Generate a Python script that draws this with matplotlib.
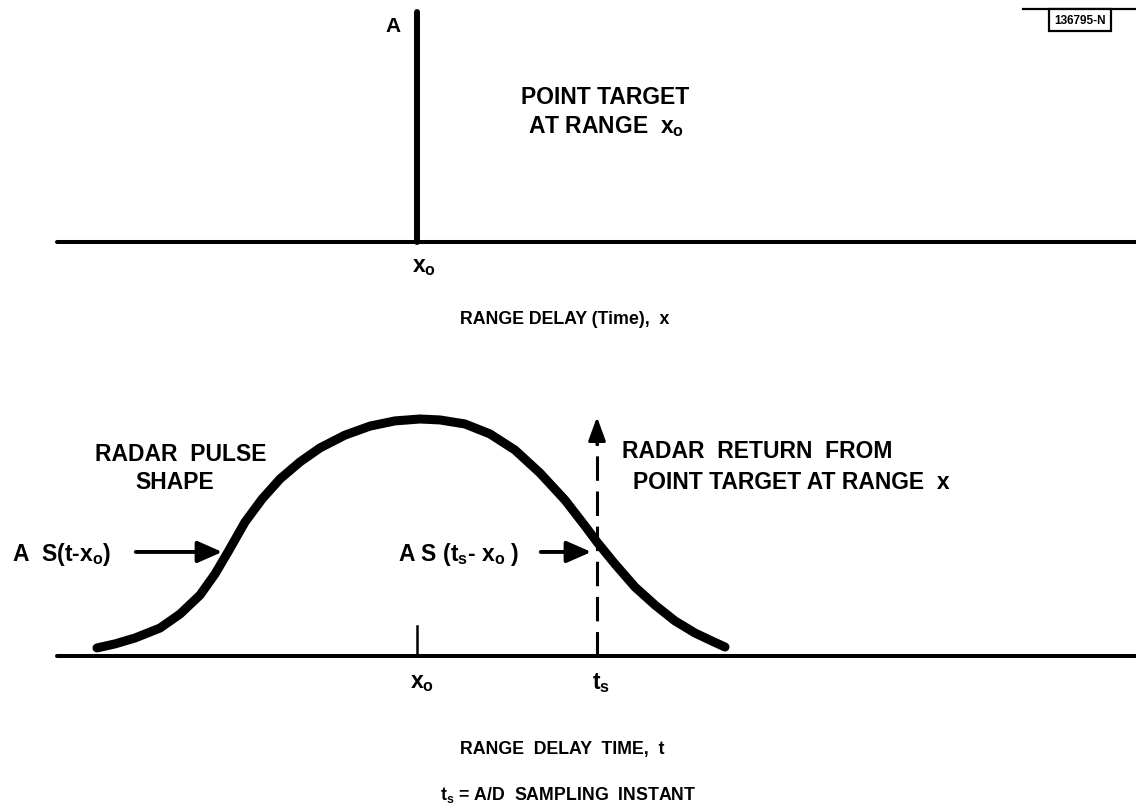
import matplotlib.pyplot as plt

# rango en unidades arbitrarias, x0 = 0
x0 = 0.0
ts = 1.8
amp_A = 1.0
eje_inicio = -3.6
eje_fin = 7.19

# forma del pulso (amplitud normalizada)
pulso_x = [-3.20, -3.02, -2.82, -2.57, -2.37, -2.17, -2.02, -1.89, -1.72, -1.55,
           -1.37, -1.17, -0.97, -0.72, -0.47, -0.22, 0.03, 0.23, 0.48, 0.73,
           0.98, 1.23, 1.48, 1.68, 1.80, 1.98, 2.18, 2.38, 2.58, 2.78,
           2.95, 3.08]
pulso_y = [0.034, 0.051, 0.076, 0.118, 0.177, 0.257, 0.346, 0.439, 0.565, 0.662,
           0.747, 0.819, 0.878, 0.932, 0.970, 0.992, 1.000, 0.996, 0.979, 0.937,
           0.869, 0.772, 0.658, 0.549, 0.481, 0.388, 0.291, 0.215, 0.148, 0.097,
           0.063, 0.038]
muestra_y = 0.439   # altura donde apuntan las flechas
tick_x0 = 0.127
flecha_ts = 1.02

plt.rcParams['font.family'] = ['Liberation Sans', 'DejaVu Sans']
plt.rcParams['font.weight'] = 'bold'
plt.rcParams['mathtext.fontset'] = 'custom'
plt.rcParams['mathtext.it'] = 'Liberation Sans:bold'
plt.rcParams['mathtext.rm'] = 'Liberation Sans:bold'

W, H = 1136, 812
fig = plt.figure(figsize=(W / 100, H / 100), dpi=100)

def fx(px):
    return px / W

def fy(py):
    return 1 - py / H

xl = (-4.17, 7.19)

# panel de arriba: blanco puntual
ax1 = fig.add_axes([0, fy(243), 1, (243 - 13) / H])
ax1.set_xlim(xl)
ax1.set_ylim(0, 1)
ax1.axis('off')
ax1.plot([eje_inicio, eje_fin], [0, 0], color='black', lw=2.9, clip_on=False, solid_capstyle='round')
ax1.plot([x0, x0], [0, amp_A], color='black', lw=4.3, clip_on=False, solid_capstyle='round')

# panel de abajo: pulso
ax2 = fig.add_axes([0, fy(657), 1, (657 - 420) / H])
ax2.set_xlim(xl)
ax2.set_ylim(0, 1)
ax2.axis('off')
ax2.plot([eje_inicio, eje_fin], [0, 0], color='black', lw=2.9, clip_on=False, solid_capstyle='round')
ax2.plot(pulso_x, pulso_y, color='black', lw=6.5, clip_on=False,
         solid_capstyle='round', solid_joinstyle='round')
ax2.plot([x0, x0], [0, tick_x0], color='black', lw=1.8, clip_on=False)
ax2.plot([ts, ts], [0, flecha_ts - 0.1], color='black', lw=2.2, linestyle=(0, (8, 3.5)), clip_on=False)
ax2.annotate('', xy=(ts, flecha_ts), xytext=(ts, flecha_ts - 0.14),
             arrowprops=dict(arrowstyle='-|>,head_length=0.6,head_width=0.22', color='black',
                             lw=2.2, mutation_scale=24),
             annotation_clip=False)
ax2.annotate('', xy=(-1.92, muestra_y), xytext=(-2.84, muestra_y),
             arrowprops=dict(arrowstyle='-|>,head_length=0.5,head_width=0.22', color='black',
                             lw=2.8, mutation_scale=30),
             annotation_clip=False)
ax2.annotate('', xy=(1.77, muestra_y), xytext=(1.21, muestra_y),
             arrowprops=dict(arrowstyle='-|>,head_length=0.5,head_width=0.22', color='black',
                             lw=2.8, mutation_scale=30),
             annotation_clip=False)

# textos
big = 16.5
small = 12.8
fig.text(fx(393), fy(27), 'A', fontsize=15, ha='center', va='center')
fig.text(fx(605), fy(97), 'POINT TARGET', fontsize=big, ha='center', va='center')
fig.text(fx(528), fy(127), 'AT RANGE  $x_o$', fontsize=big, ha='left', va='center')
fig.text(fx(424), fy(266), '$x_o$', fontsize=big, ha='center', va='center')
fig.text(fx(565), fy(320), 'RANGE DELAY (Time),  x', fontsize=small, ha='center', va='center')

fig.text(fx(181), fy(455), 'RADAR  PULSE', fontsize=big, ha='center', va='center')
fig.text(fx(175), fy(483), 'SHAPE', fontsize=big, ha='center', va='center')
fig.text(fx(12), fy(555), 'A  S(t-$x_o$)', fontsize=big, ha='left', va='center')
fig.text(fx(398), fy(555), 'A S (t$_s$- $x_o$ )', fontsize=big, ha='left', va='center')
fig.text(fx(622), fy(452), 'RADAR  RETURN  FROM', fontsize=big, ha='left', va='center')
fig.text(fx(633), fy(483), 'POINT TARGET AT RANGE  x', fontsize=big, ha='left', va='center')
fig.text(fx(422), fy(683), '$x_o$', fontsize=big, ha='center', va='center')
fig.text(fx(601), fy(683), 't$_s$', fontsize=big, ha='center', va='center')
fig.text(fx(562), fy(750), 'RANGE  DELAY  TIME,  t', fontsize=small, ha='center', va='center')
fig.text(fx(568), fy(795), 't$_s$ = A/D  SAMPLING  INSTANT', fontsize=small, ha='center', va='center')

# etiqueta de la esquina
fig.text(fx(1080), fy(21), '136795-N', fontsize=8.5, ha='center', va='center',
         bbox=dict(boxstyle='square,pad=0.45', facecolor='white', edgecolor='black', lw=1.6))
fig.add_artist(plt.Line2D([fx(1023), fx(1136)], [fy(10), fy(10)], color='black', lw=1.6))

fig.savefig('out.png', dpi=100, facecolor='white')
